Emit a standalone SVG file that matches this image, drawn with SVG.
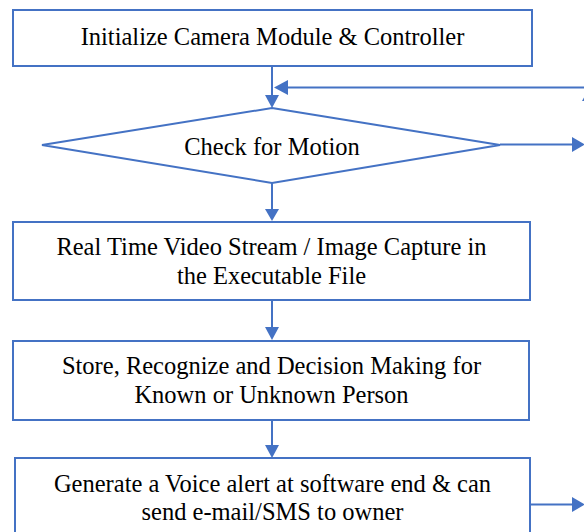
<svg xmlns="http://www.w3.org/2000/svg" width="584" height="532" viewBox="0 0 584 532">
<style>
.box{fill:#fff;stroke:#4472C4;stroke-width:2}
.ln{fill:none;stroke:#4472C4;stroke-width:2}
.ah{fill:#4472C4;stroke:none}
text{font-family:"Liberation Serif","Times New Roman",serif;font-size:24.5px;fill:#000;text-anchor:middle}
</style>
<rect width="584" height="532" fill="#fff"/>
<g id="connectors">
<line class="ln" x1="272" y1="66" x2="272" y2="96"/>
<polygon class="ah" points="265,95 279,95 272,108"/>
<line class="ln" x1="286" y1="87.5" x2="600" y2="87.5"/>
<polygon class="ah" points="274,87.5 288,80 288,95"/>
<line class="ln" x1="589" y1="100" x2="589" y2="200"/>
<polygon class="ah" points="582,101 589,89 596,101"/>
<line class="ln" x1="500" y1="144.5" x2="574" y2="144.5"/>
<polygon class="ah" points="572,137 572,152 585,144.5"/>
<line class="ln" x1="272" y1="183" x2="272" y2="210"/>
<polygon class="ah" points="265,209 279,209 272,221"/>
<line class="ln" x1="272" y1="300" x2="272" y2="328"/>
<polygon class="ah" points="265,327 279,327 272,340"/>
<line class="ln" x1="272" y1="420" x2="272" y2="446"/>
<polygon class="ah" points="265,445 279,445 272,458"/>
<line class="ln" x1="530" y1="504.5" x2="574" y2="504.5"/>
<polygon class="ah" points="572,497 572,512 585,504.5"/>
</g>
<g id="n1">
<rect class="box" x="13" y="10" width="519" height="56"/>
<text x="272.5" y="44.5">Initialize Camera Module &amp; Controller</text>
</g>
<g id="n2">
<polygon class="box" points="272,108 500,145 272,183 42,145"/>
<text x="272" y="155">Check for Motion</text>
</g>
<g id="n3">
<rect class="box" x="13" y="222" width="517" height="78"/>
<text x="271.5" y="255">Real Time Video Stream / Image Capture in</text>
<text x="271.5" y="283.5">the Executable File</text>
</g>
<g id="n4">
<rect class="box" x="13" y="341" width="516" height="79"/>
<text x="271.5" y="373.5">Store, Recognize and Decision Making for</text>
<text x="271.5" y="402.5">Known or Unknown Person</text>
</g>
<g id="n5">
<rect class="box" x="15" y="458" width="515" height="90"/>
<text x="272.5" y="491.5">Generate a Voice alert at software end &amp; can</text>
<text x="272.5" y="519.5">send e-mail/SMS to owner</text>
</g>
</svg>
